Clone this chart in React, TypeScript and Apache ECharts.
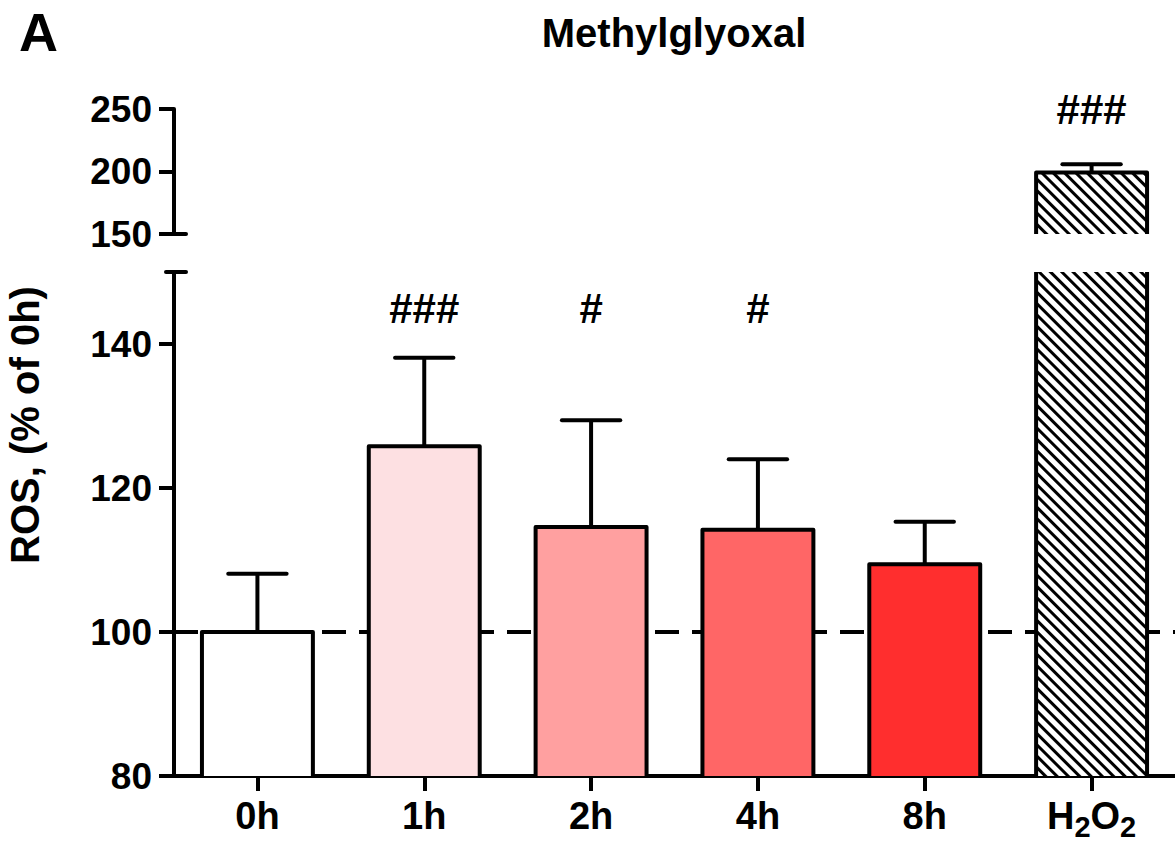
import React, { useEffect, useRef } from 'react';
import * as echarts from 'echarts';

const categories = ['0h', '1h', '2h', '4h', '8h', 'H2O2'];
const means = [100, 125.8, 114.6, 114.2, 109.4, 199.2];
const errors = [8.1, 12.3, 14.8, 9.8, 5.9, 6.6];
const barColors = ['#ffffff', '#fde0e2', '#ffa0a0', '#ff6666', '#ff2e2e', '#ffffff'];
const significance = ['', '###', '#', '#', '', '###'];
const lowerTicks = [80, 100, 120, 140];
const upperTicks = [150, 200, 250];
const referenceLevel = 100;
const lowerSigLevel = 145;
const upperSigLevel = 250;
const titleText = 'Methylglyoxal';
const yAxisTitle = 'ROS, (% of 0h)';
const panelLetter = 'A';

const FONT = "'Liberation Sans', Arial, Helvetica, sans-serif";
const BAR_RATIO = 0.665;
const LW = 4;

export default function App() {
  const ref = useRef<HTMLDivElement>(null);

  useEffect(() => {
    if (!ref.current) return;
    const chart = echarts.init(ref.current, undefined, { renderer: 'svg' });

    const barData = means.map((v, i) => ({
      value: v,
      itemStyle:
        categories[i] === 'H2O2'
          ? {
              color: '#ffffff',
              decal: {
                symbol: 'rect',
                symbolSize: 1,
                dashArrayX: [1, 0],
                dashArrayY: [3, 5],
                rotation: Math.PI / 4,
                color: '#000000',
                backgroundColor: '#ffffff',
              },
            }
          : { color: barColors[i] },
    }));

    const errData = means.map((v, i) => [i, v, errors[i]]);

    const renderItem = (params: any, api: any) => {
      const i = api.value(0);
      const m = api.value(1);
      const e = api.value(2);
      const top = api.coord([i, m]);
      const base = api.coord([i, 0]);
      const errTop = api.coord([i, m + e]);
      const band = api.size([1, 0])[0];
      const hw = (band * BAR_RATIO) / 2;
      const cap = band * 0.175;
      return {
        type: 'group',
        children: [
          {
            type: 'polyline',
            shape: {
              points: [
                [top[0] - hw, base[1]],
                [top[0] - hw, top[1]],
                [top[0] + hw, top[1]],
                [top[0] + hw, base[1]],
              ],
            },
            style: { stroke: '#000', lineWidth: LW, fill: null, lineJoin: 'round' },
          },
          {
            type: 'line',
            shape: { x1: top[0], y1: top[1], x2: top[0], y2: errTop[1] },
            style: { stroke: '#000', lineWidth: LW },
          },
          {
            type: 'line',
            shape: { x1: top[0] - cap, y1: errTop[1], x2: top[0] + cap, y2: errTop[1] },
            style: { stroke: '#000', lineWidth: LW, lineCap: 'round' },
          },
        ],
      };
    };

    const sigLower = significance
      .map((s, i) => (s && categories[i] !== 'H2O2' ? [i, lowerSigLevel, s] : null))
      .filter(Boolean);
    const sigUpper = significance
      .map((s, i) => (s && categories[i] === 'H2O2' ? [i, upperSigLevel, s] : null))
      .filter(Boolean);

    const axisLabelStyle = {
      color: '#000',
      fontFamily: FONT,
      fontWeight: 'bold' as const,
      fontSize: 37,
    };

    const sigLabel = {
      show: true,
      position: 'inside',
      formatter: (p: any) => p.data[2],
      color: '#000',
      opacity: 1,
      fontFamily: FONT,
      fontWeight: 'bold',
      fontSize: 42,
    };

    const option: any = {
      animation: false,
      backgroundColor: '#ffffff',
      grid: [
        { left: 174, top: 272, width: 1001, height: 504 },
        { left: 174, top: 109, width: 1001, height: 125 },
      ],
      xAxis: [
        {
          type: 'category',
          gridIndex: 0,
          data: categories,
          boundaryGap: true,
          axisLine: { show: true, lineStyle: { color: '#000', width: LW } },
          axisTick: { show: true, alignWithLabel: true, length: 15, lineStyle: { color: '#000', width: LW } },
          axisLabel: {
            margin: 20,
            formatter: (v: string) => (v === 'H2O2' ? '{a|H}{s|2}{a|O}{s|2}' : '{a|' + v + '}'),
            rich: {
              a: { fontFamily: FONT, fontWeight: 'bold', fontSize: 38, color: '#000', lineHeight: 40 },
              s: { fontFamily: FONT, fontWeight: 'bold', fontSize: 29, color: '#000', lineHeight: 40, padding: [22, 0, 0, 0] },
            },
          },
          splitLine: { show: false },
        },
        {
          type: 'category',
          gridIndex: 1,
          data: categories,
          boundaryGap: true,
          show: false,
        },
      ],
      yAxis: [
        {
          type: 'value',
          gridIndex: 0,
          min: 80,
          max: 150,
          interval: 20,
          axisLine: { show: true, lineStyle: { color: '#000', width: LW } },
          axisTick: { show: true, length: 15, customValues: lowerTicks, lineStyle: { color: '#000', width: LW } },
          axisLabel: {
            ...axisLabelStyle,
            margin: 22,
            customValues: lowerTicks,
            formatter: (v: number) => (lowerTicks.indexOf(v) >= 0 ? String(v) : ''),
          },
          splitLine: { show: false },
        },
        {
          type: 'value',
          gridIndex: 1,
          min: 150,
          max: 250,
          interval: 50,
          axisLine: { show: true, lineStyle: { color: '#000', width: LW } },
          axisTick: { show: true, length: 15, lineStyle: { color: '#000', width: LW } },
          axisLabel: {
            ...axisLabelStyle,
            margin: 22,
            formatter: (v: number) => (upperTicks.indexOf(v) >= 0 ? String(v) : ''),
          },
          splitLine: { show: false },
        },
      ],
      series: [
        {
          type: 'bar',
          xAxisIndex: 0,
          yAxisIndex: 0,
          z: 2,
          barWidth: BAR_RATIO * 100 + '%',
          silent: true,
          data: barData,
          itemStyle: { borderWidth: 0 },
          markLine: {
            z: 1,
            silent: true,
            symbol: ['none', 'none'],
            label: { show: false },
            lineStyle: { color: '#000', width: LW, type: [24, 13] },
            data: [{ yAxis: referenceLevel }],
          },
        },
        {
          type: 'custom',
          xAxisIndex: 0,
          yAxisIndex: 0,
          z: 3,
          clip: true,
          silent: true,
          renderItem,
          encode: { x: 0, y: 1 },
          data: errData,
        },
        {
          type: 'scatter',
          xAxisIndex: 0,
          yAxisIndex: 0,
          symbolSize: 0,
          silent: true,
          z: 4,
          itemStyle: { opacity: 1 },
          data: sigLower,
          label: sigLabel,
        },
        {
          type: 'bar',
          xAxisIndex: 1,
          yAxisIndex: 1,
          z: 2,
          barWidth: BAR_RATIO * 100 + '%',
          silent: true,
          data: barData,
          itemStyle: { borderWidth: 0 },
        },
        {
          type: 'custom',
          xAxisIndex: 1,
          yAxisIndex: 1,
          z: 3,
          clip: true,
          silent: true,
          renderItem,
          encode: { x: 0, y: 1 },
          data: errData,
        },
        {
          type: 'scatter',
          xAxisIndex: 1,
          yAxisIndex: 1,
          symbolSize: 0,
          silent: true,
          clip: false,
          z: 4,
          itemStyle: { opacity: 1 },
          data: sigUpper,
          label: sigLabel,
        },
      ],
      graphic: [
        {
          type: 'text',
          x: 19,
          y: 32,
          style: {
            text: panelLetter,
            font: 'bold 54px ' + FONT,
            fill: '#000',
            textVerticalAlign: 'middle',
            textAlign: 'left',
          },
        },
        {
          type: 'text',
          x: 674,
          y: 33,
          style: {
            text: titleText,
            font: 'bold 40px ' + FONT,
            fill: '#000',
            textVerticalAlign: 'middle',
            textAlign: 'center',
          },
        },
        {
          type: 'text',
          x: 25,
          y: 425,
          rotation: Math.PI / 2,
          style: {
            text: yAxisTitle,
            font: 'bold 40px ' + FONT,
            fill: '#000',
            textVerticalAlign: 'middle',
            textAlign: 'center',
          },
        },
        {
          type: 'line',
          shape: { x1: 172, y1: 234, x2: 186, y2: 234 },
          style: { stroke: '#000', lineWidth: LW, lineCap: 'round' },
        },
        {
          type: 'line',
          shape: { x1: 166, y1: 272, x2: 186, y2: 272 },
          style: { stroke: '#000', lineWidth: LW, lineCap: 'round' },
        },
      ],
    };

    chart.setOption(option);
    return () => chart.dispose();
  }, []);

  return (
    <div
      ref={ref}
      style={{ position: 'fixed', left: 0, top: 0, width: 1175, height: 849, background: '#fff' }}
    />
  );
}
